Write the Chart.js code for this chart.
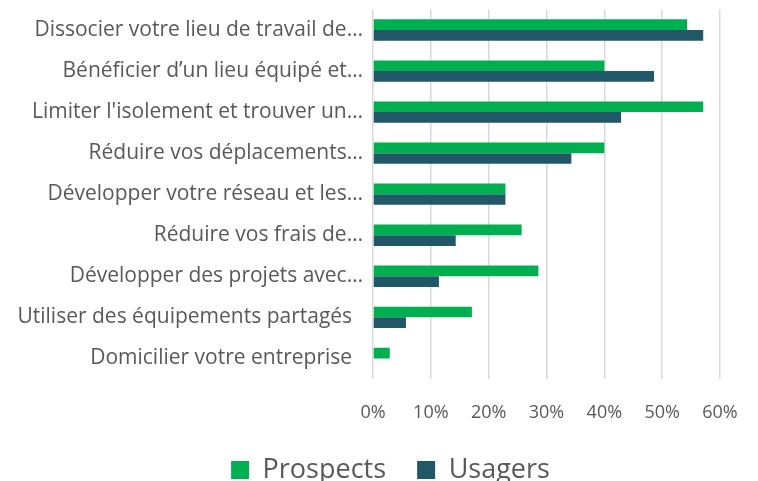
<!DOCTYPE html>
<html><head><meta charset="utf-8">
<script src="https://cdn.jsdelivr.net/npm/chart.js@4"></script>
<style>html,body{margin:0;padding:0;background:#fff}#wrap{width:758px;height:481px;position:relative}</style>
</head><body><div id="wrap"><canvas id="c" width="758" height="481"></canvas></div>
<script>
const categories = [
  "Dissocier votre lieu de travail de…",
  "Bénéficier d’un lieu équipé et…",
  "Limiter l'isolement et trouver un…",
  "Réduire vos déplacements…",
  "Développer votre réseau et les…",
  "Réduire vos frais de…",
  "Développer des projets avec…",
  "Utiliser des équipements partagés  ",
  "Domicilier votre entreprise  "
];
const prospects = [54.3, 40.0, 57.1, 40.0, 22.9, 25.7, 28.6, 17.1, 2.9];
const usagers   = [57.1, 48.6, 42.9, 34.3, 22.9, 14.3, 11.4, 5.7, 0];
const xTicks = [0, 10, 20, 30, 40, 50, 60];

const FONT = "Open Sans";
new Chart(document.getElementById('c'), {
  type: 'bar',
  data: {
    labels: categories,
    datasets: [
      {label: 'Prospects', data: prospects, backgroundColor: '#00B050'},
      {label: 'Usagers', data: usagers, backgroundColor: '#215868'}
    ]
  },
  options: {
    indexAxis: 'y',
    responsive: false,
    animation: false,
    layout: {padding: {left: 14, right: -9, top: 9.5, bottom: -12.5}},
    datasets: {bar: {categoryPercentage: 0.52, barPercentage: 1}},
    scales: {
      x: {
        min: 0, max: 60,
        afterBuildTicks: s => { s.ticks = xTicks.map(v => ({value: v})); },
        afterFit: s => { s.paddingRight = 38; s.paddingLeft = 0; },
        ticks: {callback: v => v + '%', color: '#595959', font: {family: FONT, size: 18}, padding: 23},
        grid: {color: '#d9d9d9', lineWidth: 1.5, drawTicks: false},
        border: {display: false}
      },
      y: {
        afterFit: s => { s.width = 359; s.paddingTop = 0; s.paddingBottom = 0; },
        ticks: {color: '#595959', font: {family: FONT, size: 21}, padding: 10, autoSkip: false},
        grid: {display: false, drawTicks: false},
        border: {display: false}
      }
    },
    plugins: {
      legend: {
        position: 'bottom',
        labels: {
          color: '#595959', font: {family: FONT, size: 27}, boxWidth: 18, boxHeight: 18, padding: 10,
          generateLabels: chart => {
            const items = Chart.defaults.plugins.legend.labels.generateLabels(chart);
            items.forEach((it, i) => { if (i < items.length - 1) it.text = it.text + '   '; });
            return items;
          }
        }
      },
      tooltip: {enabled: false}
    }
  }
});
</script></body></html>
